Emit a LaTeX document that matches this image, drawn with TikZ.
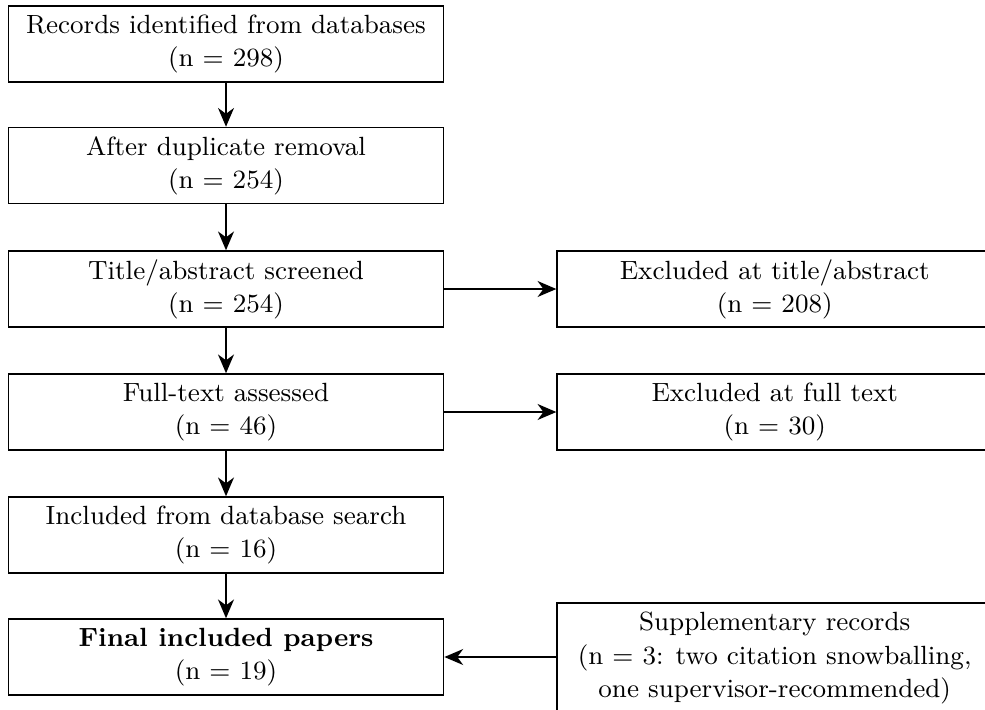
\documentclass[tikz,border=0pt]{standalone}
\usetikzlibrary{arrows.meta}
\begin{document}
\begin{tikzpicture}[x=0.012213cm,y=-0.012213cm,
  box/.style={draw, line width=0.5pt, minimum width=5.313cm, minimum height=0.928cm, align=center, inner sep=0pt, font=\fontsize{9.15}{11.5}\selectfont},
  arr/.style={line width=0.8pt, -{Stealth[length=6.5pt,width=5.5pt,inset=2pt]}}]
\useasboundingbox (0,0) rectangle (985,709);
\node[box] (b1) at (226,44) {Records identified from databases\\(n = 298)};
\node[box] (b2) at (226,165.5) {After duplicate removal\\(n = 254)};
\node[box] (b3) at (226,289) {Title/abstract screened\\(n = 254)};
\node[box] (b4) at (226,412) {Full-text assessed\\(n = 46)};
\node[box] (b5) at (226,535) {Included from database search\\(n = 16)};
\node[box] (b6) at (226,657) {\textbf{Final included papers}\\(n = 19)};
\node[box] (r1) at (774.7,289) {Excluded at title/abstract\\(n = 208)};
\node[box] (r2) at (774.7,412) {Excluded at full text\\(n = 30)};
\node[box, minimum height=1.343cm] (r3) at (774.7,658) {Supplementary records\\(n = 3: two citation snowballing,\\one supervisor-recommended)};
\draw[arr] (b1) -- (b2);
\draw[arr] (b2) -- (b3);
\draw[arr] (b3) -- (b4);
\draw[arr] (b4) -- (b5);
\draw[arr] (b5) -- (b6);
\draw[arr] (b3) -- (r1);
\draw[arr] (b4) -- (r2);
\draw[arr] (r3.west |- b6.east) -- (b6.east);
\end{tikzpicture}
\end{document}
